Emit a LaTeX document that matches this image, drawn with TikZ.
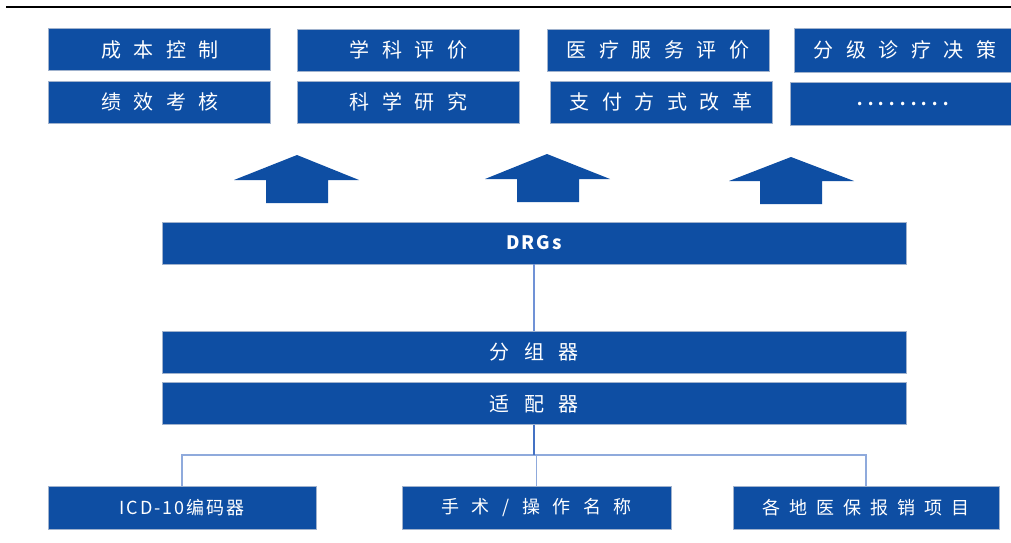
\documentclass[tikz,border=0pt]{standalone}
\usepackage{fontspec}
\newfontfamily\cjk{Noto Sans CJK SC}
\definecolor{boxblue}{RGB}{14,78,163}
\definecolor{boxedge}{RGB}{160,178,205}
\definecolor{linelt}{RGB}{143,170,220}
\definecolor{linemd}{RGB}{112,146,214}
\definecolor{linedk}{RGB}{68,114,196}
\makeatletter
\newcommand\lsp[2]{\def\lsp@gap{#1}\lsp@a#2\@nil}
\def\lsp@a#1#2\@nil{#1\ifx\relax#2\relax\else\hspace{\lsp@gap}\lsp@a#2\@nil\fi}
\makeatother
\tikzset{
  box/.style={draw=boxedge, line width=0.6pt, fill=boxblue, text=white, inner sep=0pt,
    font=\cjk\fontsize{20}{23}\selectfont},
  topbox/.style={box, minimum width=222pt, minimum height=42pt},
  barbox/.style={box, minimum width=744pt, minimum height=42pt},
  botbox/.style={box, minimum width=267pt, minimum height=43pt, font=\cjk\fontsize{18}{21}\selectfont},
  lt/.style={draw=linelt, line width=1.5pt},
  md/.style={draw=linemd, line width=1.5pt},
  dk/.style={draw=linedk, line width=2pt},
}
\begin{document}
\begin{tikzpicture}[x=1pt,y=-1pt]
\useasboundingbox (0,0) rectangle (1011,542);
\fill[white] (0,0) rectangle (1011,542);
\draw[line width=2pt] (6,6.5) -- (1011,6.5);
% top rows
\node[topbox] (b11) at (159.75,49.75) {\lsp{12.5pt}{成本控制}};
\node[topbox] (b12) at (408.5,50) {\lsp{12.5pt}{学科评价}};
\node[topbox] (b13) at (658,50) {\lsp{12.5pt}{医疗服务评价}};
\node[topbox, minimum height=44pt] (b14) at (905,50) {\lsp{12.5pt}{分级诊疗决策}};
\node[topbox] (b21) at (159.75,102) {\lsp{12.5pt}{绩效考核}};
\node[topbox] (b22) at (408.5,102) {\lsp{12.5pt}{科学研究}};
\node[topbox] (b23) at (661,102) {\lsp{12.5pt}{支付方式改革}};
\node[topbox, minimum width=226pt, minimum height=43pt] (b24) at (903,104) {\fontsize{26}{28}\selectfont\lsp{3.5pt}{.........}};
% up arrows
\fill[boxblue] (266,203) -- (266,180) -- (234,180) -- (297,155) -- (359,180) -- (328,180) -- (328,203) -- cycle;
\fill[boxblue] (517,202) -- (517,179) -- (485,179) -- (547,154) -- (610,179) -- (579,179) -- (579,202) -- cycle;
\fill[boxblue] (760,204) -- (760,181) -- (729,181) -- (791,157) -- (854,181) -- (822,181) -- (822,204) -- cycle;
% bars
\node[barbox] (drg) at (534,243) {\fontsize{18.5}{21}\selectfont\bfseries\lsp{2pt}{DRGs}};
\node[barbox] (grp) at (534,352) {\lsp{14.5pt}{分组器}};
\node[barbox, minimum height=41.5pt] (adp) at (534,403.5) {\lsp{14.5pt}{适配器}};
% bottom boxes
\node[botbox, minimum width=268pt] (icd) at (182,507.5) {\lsp{2pt}{ICD-10编码器}};
\node[botbox, minimum width=269pt] (op) at (536.5,507.5) {\lsp{12.5pt}{手术/操作名称}};
\node[botbox, minimum width=266pt] (prov) at (866,507.5) {\lsp{9pt}{各地医保报销项目}};
% connectors
\draw[md] (drg.south) -- (grp.north);
\coordinate (j) at (534,455);
\draw[lt] (icd.north) |- (j) -| (prov.north);
\draw[lt] (j -| op.north) -- (op.north);
\draw[dk] (adp.south) -- (j);
\end{tikzpicture}
\end{document}
